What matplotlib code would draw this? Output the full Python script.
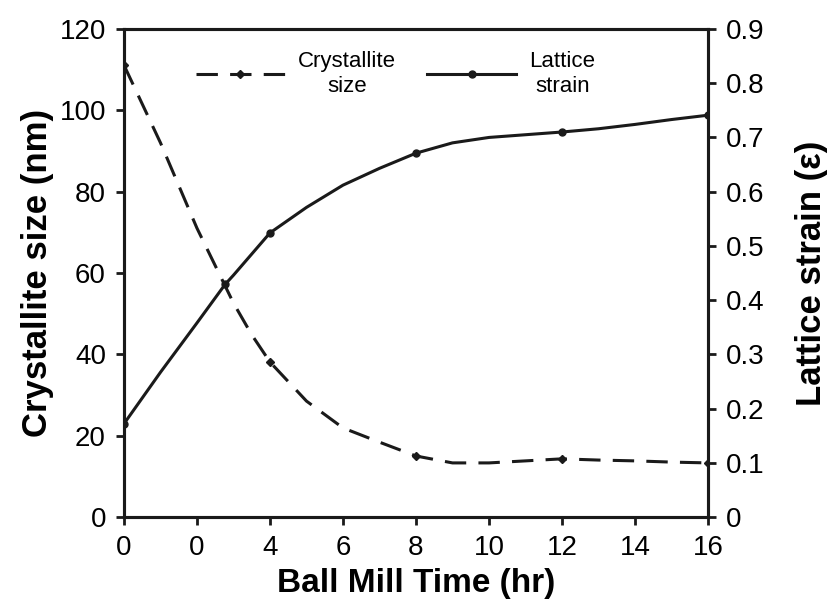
import matplotlib
matplotlib.use("Agg")
import matplotlib.pyplot as plt

plt.rcParams['font.family'] = ['Liberation Sans', 'DejaVu Sans']

# crystallite size (nm)
size_hours = [0, 1, 2, 3, 3.5, 4, 5, 6, 7, 8, 9, 10, 11, 12, 13, 14, 15, 16]
size_nm = [111.1, 92, 71, 52.6, 44.8, 38.1, 28.5, 21.9, 18.4, 15.0, 13.3, 13.3,
           13.8, 14.3, 14.0, 13.8, 13.5, 13.3]
size_marks = [0, 5, 9, 13, 17]

# lattice strain
strain_hours = [0, 1, 2, 2.77, 3, 4, 5, 6, 7, 8, 9, 10, 11, 12, 13, 14, 15, 16]
strain = [0.172, 0.267, 0.358, 0.429, 0.446, 0.524, 0.571, 0.612, 0.643, 0.671,
          0.690, 0.700, 0.705, 0.710, 0.716, 0.724, 0.733, 0.741]
strain_marks = [0, 3, 5, 9, 13, 17]

xtick_pos = [0, 2, 4, 6, 8, 10, 12, 14, 16]
xtick_labels = ['0', '0', '4', '6', '8', '10', '12', '14', '16']
left_ticks = [0, 20, 40, 60, 80, 100, 120]
right_ticks = [0, 0.1, 0.2, 0.3, 0.4, 0.5, 0.6, 0.7, 0.8, 0.9]
right_labels = ['0', '0.1', '0.2', '0.3', '0.4', '0.5', '0.6', '0.7', '0.8', '0.9']

col = '#1a1a1a'
fig = plt.figure(figsize=(8.3, 5.99), dpi=100)
ax = fig.add_axes([0.1494, 0.1369, 0.7036, 0.8147])
ax2 = ax.twinx()

l1, = ax.plot(size_hours, size_nm, color=col, lw=2.2, dashes=(7, 4),
              marker='D', ms=4.5, markevery=size_marks)
l2, = ax2.plot(strain_hours, strain, color=col, lw=2.2,
               marker='o', ms=5, markevery=strain_marks)

ax.set_xlim(0, 16)
ax.set_ylim(0, 120)
ax2.set_ylim(0, 0.9)
ax.set_xticks(xtick_pos)
ax.set_xticklabels(xtick_labels)
ax.set_yticks(left_ticks)
ax2.set_yticks(right_ticks)
ax2.set_yticklabels(right_labels)

for a in (ax, ax2):
    for s in a.spines.values():
        s.set_linewidth(2.2)
        s.set_color(col)
    a.tick_params(direction='out', length=6, width=2, colors=col,
                  labelsize=20, labelcolor='black', pad=7)

ax.set_xlabel('Ball Mill Time (hr)', fontsize=24, fontweight='bold', labelpad=5)
ax.set_ylabel('Crystallite size (nm)', fontsize=25, fontweight='bold', labelpad=4)
ax2.set_ylabel('Lattice strain (\u03b5)', fontsize=25, fontweight='bold', labelpad=22)

leg = ax.legend([l1, l2], ['Crystallite\nsize', 'Lattice\nstrain'], loc='upper center',
                bbox_to_anchor=(0.465, 0.995), ncol=2, frameon=False, fontsize=16,
                handlelength=4, columnspacing=1.4, handletextpad=0.6)
for t in leg.get_texts():
    t.set_multialignment('center')

fig.savefig('out.png', dpi=100)
